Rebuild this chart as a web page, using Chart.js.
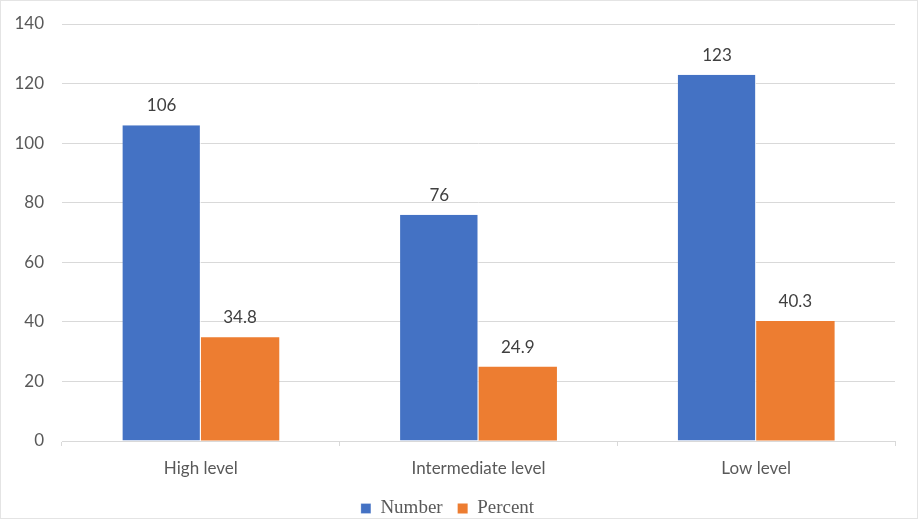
<!DOCTYPE html>
<html>
<head>
<meta charset="utf-8">
<script src="https://cdn.jsdelivr.net/npm/chart.js@4"></script>
<style>
  html, body { margin: 0; padding: 0; background: #fff; }
  #wrap { position: relative; width: 918px; height: 519px; }
  #frame { position: absolute; left: 0; top: 0; width: 916px; height: 517px; border: 1px solid #e4e4e4; pointer-events: none; }
</style>
</head>
<body>
<div id="wrap"><canvas id="chart" width="918" height="519"></canvas><div id="frame"></div></div>
<script>
const categories = ["High level", "Intermediate level", "Low level"];
const numberValues = [106, 76, 123];
const percentValues = [34.8, 24.9, 40.3];
const yTicks = [0, 20, 40, 60, 80, 100, 120, 140];

// draws the value above each bar
const barLabels = {
    id: "barLabels",
    afterDatasetsDraw(chart) {
        const ctx = chart.ctx;
        ctx.save();
        ctx.font = "17px Lato";
        ctx.fillStyle = "#404040";
        ctx.textAlign = "center";
        ctx.textBaseline = "bottom";
        chart.data.datasets.forEach(function (ds, i) {
            chart.getDatasetMeta(i).data.forEach(function (bar, j) {
                ctx.fillText(String(ds.data[j]), bar.x, bar.y - 11);
            });
        });
        ctx.restore();
    }
};

new Chart(document.getElementById("chart").getContext("2d"), {
    type: "bar",
    data: {
        labels: categories,
        datasets: [
            { label: "Number", data: numberValues, backgroundColor: "#4472C4", borderColor: "#ffffff", borderWidth: { right: 1 }, borderSkipped: false },
            { label: "Percent", data: percentValues, backgroundColor: "#ED7D31", borderWidth: 0 }
        ]
    },
    options: {
        responsive: false,
        animation: false,
        devicePixelRatio: 1,
        layout: { padding: { top: 24, right: 23, left: 0, bottom: -9 } },
        datasets: { bar: { categoryPercentage: 0.565, barPercentage: 1 } },
        scales: {
            y: {
                min: 0,
                max: 140,
                afterBuildTicks(scale) { scale.ticks = yTicks.map(v => ({ value: v })); },
                afterFit(scale) { scale.width = 62; },
                border: { display: false },
                grid: { color: "#d9d9d9", drawTicks: true, tickLength: 18, tickColor: "rgba(0,0,0,0)" },
                ticks: { color: "#595959", font: { family: "Lato", size: 17 }, padding: 0 }
            },
            x: {
                afterFit(scale) { scale.height = 43; },
                border: { display: true, color: "#d9d9d9" },
                grid: { offset: true, drawOnChartArea: false, drawTicks: true, tickLength: 5, color: "#d9d9d9" },
                ticks: { color: "#595959", font: { family: "Lato", size: 17 }, padding: 12 }
            }
        },
        plugins: {
            tooltip: { enabled: false },
            legend: {
                position: "bottom",
                labels: {
                    boxWidth: 10,
                    boxHeight: 10,
                    padding: 15,
                    color: "#595959",
                    font: { family: "Liberation Serif", size: 19 }
                }
            }
        }
    },
    plugins: [barLabels]
});
</script>
</body>
</html>
